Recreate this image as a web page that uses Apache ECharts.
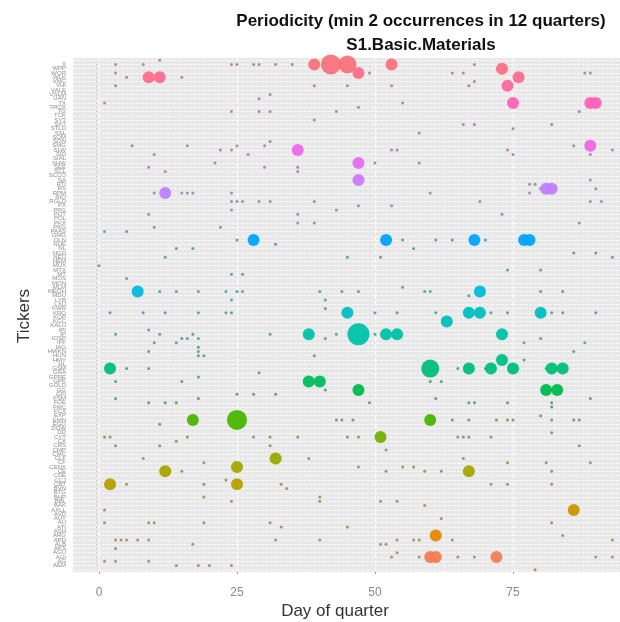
<!DOCTYPE html>
<html>
<head>
<meta charset="utf-8">
<script src="https://cdn.jsdelivr.net/npm/echarts@6/dist/echarts.min.js"></script>
<style>html,body{margin:0;padding:0;background:#fff}#c{width:620px;height:622px}</style>
</head>
<body>
<div id="c"></div>
<script>
// ---- data ----
const titleLines = ['Periodicity (min 2 occurrences in 12 quarters)', 'S1.Basic.Materials'];
const xLabel = 'Day of quarter';
const yLabel = 'Tickers';
const xTicks = [0, 25, 50, 75];
const tickers = ['AA','AEM','AG','AGI','AGU','AKS','ALB','APD','ARG','ASH','ATI','AU','AUY','AVD','AXLL','BAK','BBL','BHP','BTG','BVN',
 'CBT','CCJ','CDE','CE','CENX','CF','CLF','CMC','CMP','CRS','CX','CYT','DD','DOW','EGO','EMN','EXP','FCX','FMC','FOE',
 'FSM','GFI','GG','GOLD','GPK','GPRE','GRA','GSM','HL','HMY','HUN','HWKN','IAG','IFF','IOSP','IP','IPI','KALU','KGC','KOP',
 'KRO','KWR','LXU','LYB','MDU','MEOH','MLM','MON','MOS','MT','MTX','MUX','NEM','NEU','NGD','NL','NUE','OLN','OMG','PAAS',
 'PKG','PKX','POL','POT','PPG','PX','RGLD','RIO','RPM','RS','RTI','SA','SCCO','SCL','SEE','SHW','SIAL','SID','SLW','SMG',
 'SON','SQM','SSL','STLD','SXT','SYT','TCK','TG','TROX','TX','UAN','USLM','VALE','VHI','VMC','WLK','WOR','WPP','X','ZINC'];
// [day, ticker index, occurrences]
const periodicPoints = [
 [9,115,3],[11,115,3],
 [39,118,3],[42,118,7],[45,118,6],[47,116,3],[53,118,3],
 [73,117,3],[76,115,3],[74,113,3],[75,109,3],[89,109,3],[90,109,3],
 [89,99,3],[36,98,3],[47,95,3],[47,91,3],[81,89,3],[82,89,3],[12,88,3],
 [28,77,3],[52,77,3],[68,77,3],[77,77,3],[78,77,3],
 [7,65,3],[69,65,3],
 [45,60,3],[67,60,3],[69,60,3],[80,60,3],
 [63,58,3],
 [38,55,3],[47,55,8],[52,55,3],[54,55,3],[73,55,3],
 [2,47,3],[60,47,6],[67,47,3],[71,47,3],[73,49,3],[75,47,3],[82,47,3],[84,47,3],
 [38,44,3],[40,44,3],
 [47,42,3],[81,42,3],[83,42,3],
 [17,35,3],[25,35,7],[60,35,3],
 [51,31,3],[32,26,3],[25,24,3],[12,23,3],[67,23,3],
 [2,20,3],[25,20,3],[86,14,3],[61,8,3],[60,3,3],[61,3,3],[72,3,3]
];
// [day, ticker index] single occurrences
const singlePoints = [
 [11,119],[3,118],[8,118],[3,116],[5,115],[15,115],[3,113],[1,109],[24,118],[25,118],[28,118],[29,118],[32,118],[35,118],
 [31,111],[29,110],[24,107],[29,107],[31,107],[43,107],[39,105],[39,113],[6,99],[16,99],[25,99],[30,99],[31,100],[10,97],
 [22,98],[24,98],[27,97],[21,95],[9,94],[30,94],[36,94],[36,93],[12,93],[10,88],[15,88],[16,88],[17,88],[24,88],[24,86],
 [25,86],[26,86],[29,86],[31,86],[39,86],[24,84],[9,83],[36,83],[36,81],[39,81],[43,84],[10,80],[22,80],
 [49,116],[45,113],[53,113],[55,109],[47,108],[68,118],[64,116],[66,116],[68,114],[67,113],[88,116],[89,116],[87,107],
 [66,104],[68,104],[75,103],[82,104],[58,102],[53,98],[54,98],[50,95],[58,95],[74,98],[75,97],[86,99],[89,97],[93,98],
 [78,90],[79,90],[78,88],[80,89],[60,88],[69,86],[89,91],[90,89],[89,86],[91,86],[47,85],[53,85],[73,83],[87,81],
 [1,79],[5,79],[25,77],[32,76],[14,75],[17,75],[12,73],[0,71],[24,69],[26,69],[5,68],[11,65],[14,65],[18,65],[23,65],
 [25,65],[26,65],[40,65],[24,63],[41,63],[41,61],[2,60],[8,60],[12,60],[18,60],[23,60],[24,60],[3,55],[9,56],[11,55],
 [17,55],[31,55],[43,55],[41,54],[10,53],[14,53],[15,54],[16,54],[18,54],[18,52],[18,51],[18,50],[9,51],[19,50],[39,50],
 [9,47],[5,47],[29,46],[3,44],[15,44],[18,45],[25,41],[28,41],[32,41],[3,40],[18,40],[41,42],
 [55,77],[57,75],[61,77],[64,77],[70,77],[45,73],[51,73],[86,74],[90,74],[93,73],[74,70],[80,70],[55,66],[44,65],[47,65],
 [59,65],[60,65],[67,64],[80,65],[84,65],[50,60],[54,60],[61,60],[71,60],[74,60],[82,60],[84,60],[90,60],[50,55],[77,53],
 [80,54],[86,51],[88,53],[65,47],[70,47],[77,49],[81,47],[60,44],[62,44],[49,39],[61,40],[67,39],[68,39],[74,39],[82,39],[89,40],
 [9,39],[12,39],[14,39],[11,34],[43,35],[1,31],[2,31],[16,31],[28,31],[31,31],[36,31],[45,31],[3,29],[11,29],[14,30],[31,29],
 [8,26],[19,25],[38,26],[15,23],[23,21],[5,20],[19,20],[33,20],[34,19],[19,17],[24,16],[40,17],[40,16],[1,14],[1,11],[9,11],
 [10,11],[19,11],[31,11],[33,10],[3,7],[4,7],[5,7],[7,7],[9,7],[17,6],[32,7],[40,7],[3,5],[1,2],[3,2],[9,2],[14,1],[18,1],[20,1],[24,1],
 [82,38],[80,36],[44,35],[46,35],[64,35],[67,35],[72,35],[74,35],[75,35],[82,35],[86,35],[87,35],[82,32],[47,31],[65,31],[66,31],
 [67,31],[71,31],[87,29],[52,28],[66,26],[74,25],[81,25],[89,25],[47,24],[52,23],[55,24],[57,24],[59,23],[62,23],[82,23],[71,20],
 [74,20],[82,20],[51,16],[54,16],[59,15],[62,12],[82,11],[45,10],[84,8],[54,7],[57,7],[58,7],[64,7],[51,6],[52,6],[93,7],[53,3],
 [58,3],[65,3],[68,3],[90,3],[93,3],[54,4],[79,0]
];

// ---- colours (ggplot2 hue palette) ----
const N = tickers.length;
function hclRGB(h, c, l) {
  const hr = h * Math.PI / 180, U = c * Math.cos(hr), V = c * Math.sin(hr);
  const Xn = 95.047, Yn = 100, Zn = 108.883;
  const Y = l > 8 ? Yn * Math.pow((l + 16) / 116, 3) : Yn * l / 903.3;
  const d = Xn + 15 * Yn + 3 * Zn, un = 4 * Xn / d, vn = 9 * Yn / d;
  const u = U / (13 * l) + un, v = V / (13 * l) + vn;
  const X = Y * 9 * u / (4 * v), Z = Y * (12 - 3 * u - 20 * v) / (4 * v);
  const x = X / 100, y = Y / 100, z = Z / 100;
  const lin = [3.240479*x - 1.537150*y - 0.498535*z, -0.969256*x + 1.875992*y + 0.041556*z, 0.055648*x - 0.204043*y + 1.057311*z];
  return lin.map(t => { t = t <= 0.0031308 ? 12.92 * t : 1.055 * Math.pow(t, 1/2.4) - 0.055; return Math.round(Math.max(0, Math.min(1, t)) * 255); });
}
function rowRGB(i) { return hclRGB(15 + 360 * i / N, 100, 65); }
function rowColor(i) { const c = rowRGB(i); return 'rgb(' + c.join(',') + ')'; }
function rowColorDim(i) { const c = rowRGB(i); const g = 95; return 'rgb(' + c.map(t => Math.round(t * 0.45 + g * 0.55)).join(',') + ')'; }

const hLines = tickers.map((t, i) => ({ yAxis: i, lineStyle: { color: '#ffffff', width: 0.8 } }));
const vLines = [12.5, 37.5, 62.5, 87.5].map(v => ({ xAxis: v, lineStyle: { color: '#f5f5f5', width: 0.6 } }))
  .concat(xTicks.map(v => ({ xAxis: v, lineStyle: { color: '#ffffff', width: 1.2 } })));

const chart = echarts.init(document.getElementById('c'), null, { renderer: 'canvas' });
chart.setOption({
  animation: false,
  backgroundColor: '#ffffff',
  title: {
    text: titleLines.join('\n'),
    left: 416, top: 4, textAlign: 'center',
    textStyle: { fontFamily: 'Liberation Sans, Arial, sans-serif', fontWeight: 'bold', fontSize: 17, lineHeight: 24, color: '#111' }
  },
  grid: { left: 73, right: 0, top: 58, bottom: 50, show: true, backgroundColor: '#E8E8E8', borderWidth: 0, containLabel: false },
  xAxis: {
    type: 'value', min: -4.71, max: 94.38,
    axisLine: { show: false },
    splitLine: { show: false },
    axisTick: { show: true, customValues: xTicks, length: 4, lineStyle: { color: '#8a8a8a' } },
    axisLabel: { customValues: xTicks, color: '#8a8a8a', fontSize: 12, margin: 15, fontFamily: 'Liberation Sans, Arial, sans-serif' }
  },
  yAxis: {
    type: 'value', min: -0.5, max: N - 0.5,
    axisLine: { show: false },
    splitLine: { show: false },
    axisTick: { show: true, customValues: tickers.map((t, i) => i), length: 3, lineStyle: { color: '#9a9a9a', width: 0.6 } },
    axisLabel: { customValues: tickers.map((t, i) => i), formatter: v => tickers[v] || '', color: '#8c8c8c', fontSize: 6, margin: 7, fontFamily: 'Liberation Sans, Arial, sans-serif' }
  },
  graphic: [
    { type: 'text', x: 335, y: 611, style: { text: xLabel, fill: '#333', font: '17px Liberation Sans, Arial, sans-serif', textAlign: 'center', textVerticalAlign: 'middle' } },
    { type: 'text', x: 24, y: 316, rotation: Math.PI / 2, style: { text: yLabel, fill: '#333', font: '17px Liberation Sans, Arial, sans-serif', textAlign: 'center', textVerticalAlign: 'middle' } }
  ],
  series: [
    {
      type: 'scatter', z: 3, symbol: 'circle', symbolSize: 3,
      data: singlePoints,
      itemStyle: { color: p => rowColorDim(p.value[1]), opacity: 0.75 },
      markLine: { silent: true, z: 1, symbol: 'none', label: { show: false }, animation: false, data: hLines.concat(vLines) }
    },
    {
      type: 'scatter', z: 4, symbol: 'circle',
      data: periodicPoints,
      symbolSize: v => 6 + 2 * v[2],
      itemStyle: { color: p => rowColor(p.value[1]), opacity: 0.95 }
    }
  ]
});
</script>
</body>
</html>
